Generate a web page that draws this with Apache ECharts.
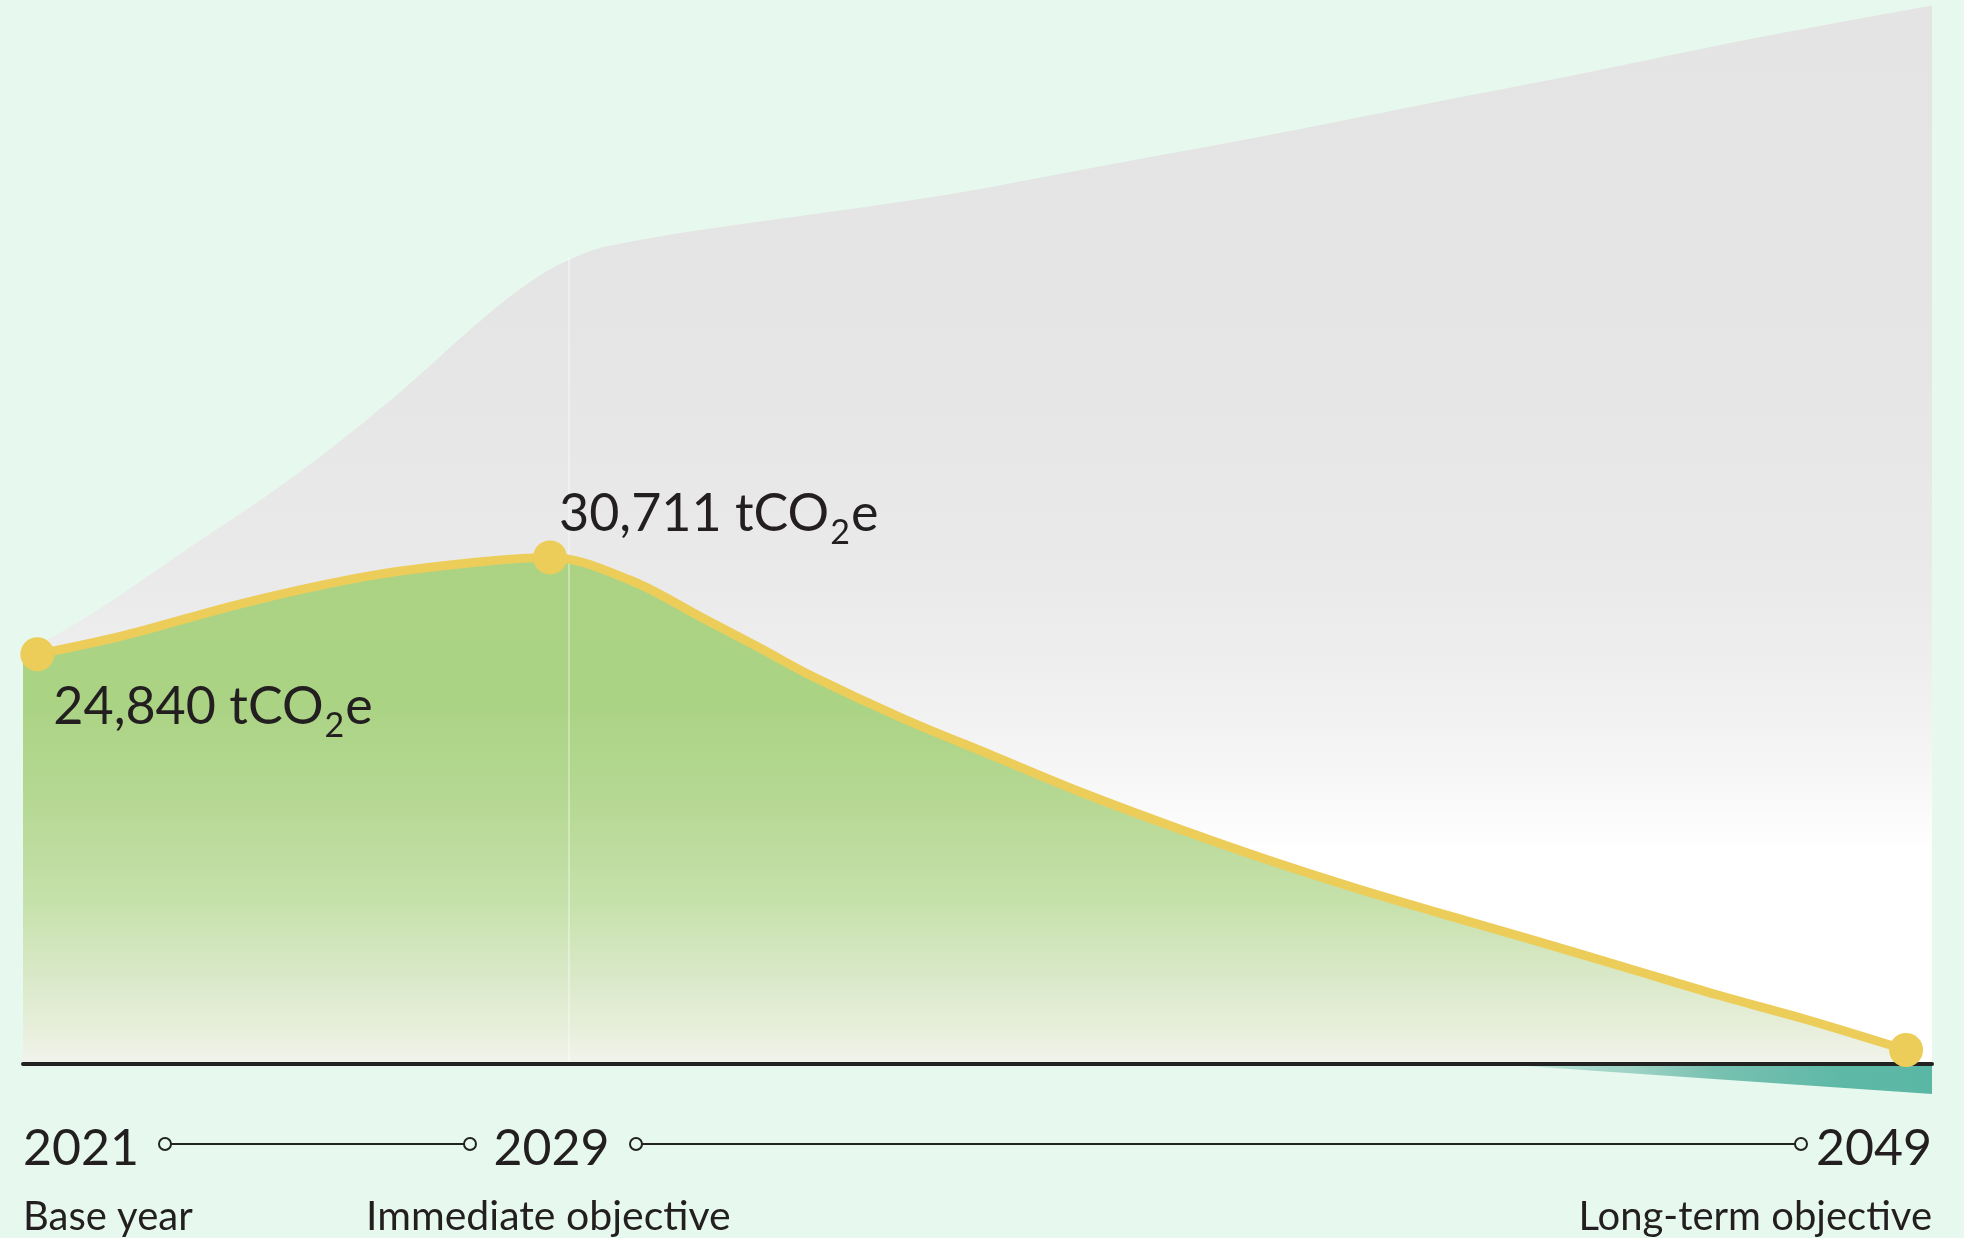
<!DOCTYPE html>
<html><head><meta charset="utf-8">
<script src="https://cdn.jsdelivr.net/npm/echarts@6/dist/echarts.min.js"></script>
<style>html,body{margin:0;padding:0;background:#e7f9ee;} #c{width:1964px;height:1238px;}</style>
</head><body><div id="c"></div>
<script>
// ---- data ----
const milestoneYears = [2021, 2029, 2049];
const milestoneNames = ['Base year', 'Immediate objective', 'Long-term objective'];
const milestoneValueLabels = ['24,840', '30,711', ''];

// business-as-usual envelope (grey area)
const bauYears  = [2021, 2022.09, 2023.51, 2024.93, 2026.35, 2027.78, 2028.58, 2029.3, 2029.8, 2030.93, 2034.48, 2036.84, 2039.2, 2041.56, 2043.94, 2046.3, 2049];
const bauValues = [24840, 27500, 31500, 35500, 40100, 45300, 47800, 49250, 49750, 50550, 52650, 54450, 56250, 58180, 60100, 62100, 64160];

// emissions trajectory (yellow line / green area)
const pathYears  = [2021.21, 2022.5, 2024.34, 2026.17, 2028.01, 2028.73, 2029.9, 2030.97, 2031.81, 2032.57, 2033.89, 2035.23, 2036.55, 2037.88, 2039.22, 2040.54, 2041.87, 2043.19, 2044.53, 2045.86, 2047.18, 2048.62];
const pathValues = [24840, 26000, 28050, 29650, 30560, 30711, 29340, 27040, 25220, 23520, 20975, 18680, 16430, 14370, 12430, 10670, 9040, 7460, 5820, 4180, 2670, 850];
const milestoneIndex = [0, 5, 21];

// removals (teal area below zero)
const removalYears  = [2042.6, 2049];
const removalValues = [0, -1820];

// ---- build ----
const FONT = 'Lato';
const INK = '#231f20';
const YELLOW = '#edcd5a';
const BG = '#e7f9ee';

const bauData = bauYears.map((x, i) => [x, bauValues[i]]);
const areaData = [[2021, pathValues[0]]].concat(pathYears.map((x, i) => [x, pathValues[i]]));
const removalData = removalYears.map((x, i) => [x, removalValues[i]]);

const valueRich = {
  n: {fontFamily: FONT, fontSize: 52, lineHeight: 80, color: INK},
  s: {fontFamily: FONT, fontSize: 34, lineHeight: 34, color: INK, verticalAlign: 'top', padding: [42, 1, 0, 1]}
};
const labelOffsets = [[16, 53], [9, -43]];

const lineData = pathYears.map((x, i) => {
  const m = milestoneIndex.indexOf(i);
  const item = {value: [x, pathValues[i]], symbolSize: m >= 0 ? 34 : 0};
  if (m >= 0 && milestoneValueLabels[m]) {
    item.label = {
      show: true, position: 'inside', align: 'left', verticalAlign: 'middle',
      offset: labelOffsets[m],
      formatter: '{n|' + milestoneValueLabels[m] + ' tCO}{s|2}{n|e}',
      rich: valueRich
    };
  }
  return item;
});

const chart = echarts.init(document.getElementById('c'));
chart.setOption({
  animation: false,
  backgroundColor: BG,
  grid: {left: 23, right: 32, top: 0, bottom: 174, outerBoundsMode: 'none', containLabel: false},
  xAxis: {
    type: 'value', min: 2021, max: 2049, z: 4,
    axisLine: {show: true, onZero: false, lineStyle: {color: '#222222', width: 4}},
    axisTick: {show: false}, splitLine: {show: false},
    axisLabel: {
      customValues: milestoneYears, margin: 43,
      showMinLabel: true, showMaxLabel: true,
      alignMinLabel: 'left', alignMaxLabel: 'right',
      formatter: function (v) {
        const i = milestoneYears.indexOf(v);
        const k = i === 1 ? 'm' : '';
        return '{y' + k + '|' + v + '}\n{n' + k + '|' + milestoneNames[i] + '}';
      },
      rich: {
        y: {fontFamily: FONT, fontSize: 50, lineHeight: 84, color: INK},
        n: {fontFamily: FONT, fontSize: 40, lineHeight: 52, color: INK},
        ym: {fontFamily: FONT, fontSize: 50, lineHeight: 84, color: INK, padding: [0, 34, 0, 0]},
        nm: {fontFamily: FONT, fontSize: 41, lineHeight: 52, color: INK, padding: [0, 40, 0, 0]}
      }
    }
  },
  yAxis: {type: 'value', min: 0, max: 64500, show: false, splitLine: {show: false}},
  series: [
    {
      name: 'Business as usual', type: 'line', z: 1, data: bauData,
      smooth: 0.35, symbol: 'none', lineStyle: {width: 0},
      areaStyle: {opacity: 1, color: new echarts.graphic.LinearGradient(0, 0, 0, 1, [
        {offset: 0, color: '#e4e4e4'}, {offset: 0.3, color: '#e5e5e5'}, {offset: 0.55, color: '#eaeaea'},
        {offset: 0.68, color: '#f2f2f2'}, {offset: 0.76, color: '#fafafa'}, {offset: 0.8, color: '#ffffff'},
        {offset: 1, color: '#ffffff'}])},
      markLine: {
        silent: true, symbol: 'none', z: 3, label: {show: false},
        lineStyle: {color: 'rgba(255,255,255,0.35)', width: 2, type: 'solid'},
        data: [[{coord: [2029, 0]}, {coord: [2029, 48900]}]]
      }
    },
    {
      name: 'Emissions area', type: 'line', z: 2, data: areaData,
      smooth: 0.35, symbol: 'none', lineStyle: {width: 0},
      areaStyle: {opacity: 1, color: new echarts.graphic.LinearGradient(0, 0, 0, 1, [
        {offset: 0, color: '#acd384'}, {offset: 0.29, color: '#abd384'}, {offset: 0.48, color: '#b5d893'},
        {offset: 0.68, color: '#c6e1ab'}, {offset: 0.81, color: '#d7e8c5'}, {offset: 0.94, color: '#e9efdd'},
        {offset: 1, color: '#f2f4ec'}])}
    },
    {
      name: 'Removals', type: 'line', z: 2, data: removalData, clip: false,
      symbol: 'none', lineStyle: {width: 0},
      areaStyle: {opacity: 1, origin: 'start', color: new echarts.graphic.LinearGradient(0, 0, 1, 0, [
        {offset: 0, color: 'rgba(93,184,165,0)'}, {offset: 0.3, color: '#a0d4c6'}, {offset: 0.5, color: '#78c1b1'},
        {offset: 0.8, color: '#5eb8a6'}, {offset: 1, color: '#5bb7a5'}])}
    },
    {
      name: 'Trajectory', type: 'line', z: 5, data: lineData,
      smooth: 0.35, symbol: 'circle', showSymbol: true, showAllSymbol: true,
      lineStyle: {color: YELLOW, width: 9}, itemStyle: {color: YELLOW},
      label: {show: false}
    }
  ],
  graphic: [
    {type: 'line', shape: {x1: 171, y1: 1144, x2: 464, y2: 1144}, style: {stroke: '#222', lineWidth: 2}},
    {type: 'line', shape: {x1: 642, y1: 1144, x2: 1795, y2: 1144}, style: {stroke: '#222', lineWidth: 2}},
    {type: 'circle', shape: {cx: 165, cy: 1144, r: 6}, style: {fill: BG, stroke: '#222', lineWidth: 2}},
    {type: 'circle', shape: {cx: 470, cy: 1144, r: 6}, style: {fill: BG, stroke: '#222', lineWidth: 2}},
    {type: 'circle', shape: {cx: 636, cy: 1144, r: 6}, style: {fill: BG, stroke: '#222', lineWidth: 2}},
    {type: 'circle', shape: {cx: 1801, cy: 1144, r: 6}, style: {fill: BG, stroke: '#222', lineWidth: 2}}
  ]
});
</script></body></html>
